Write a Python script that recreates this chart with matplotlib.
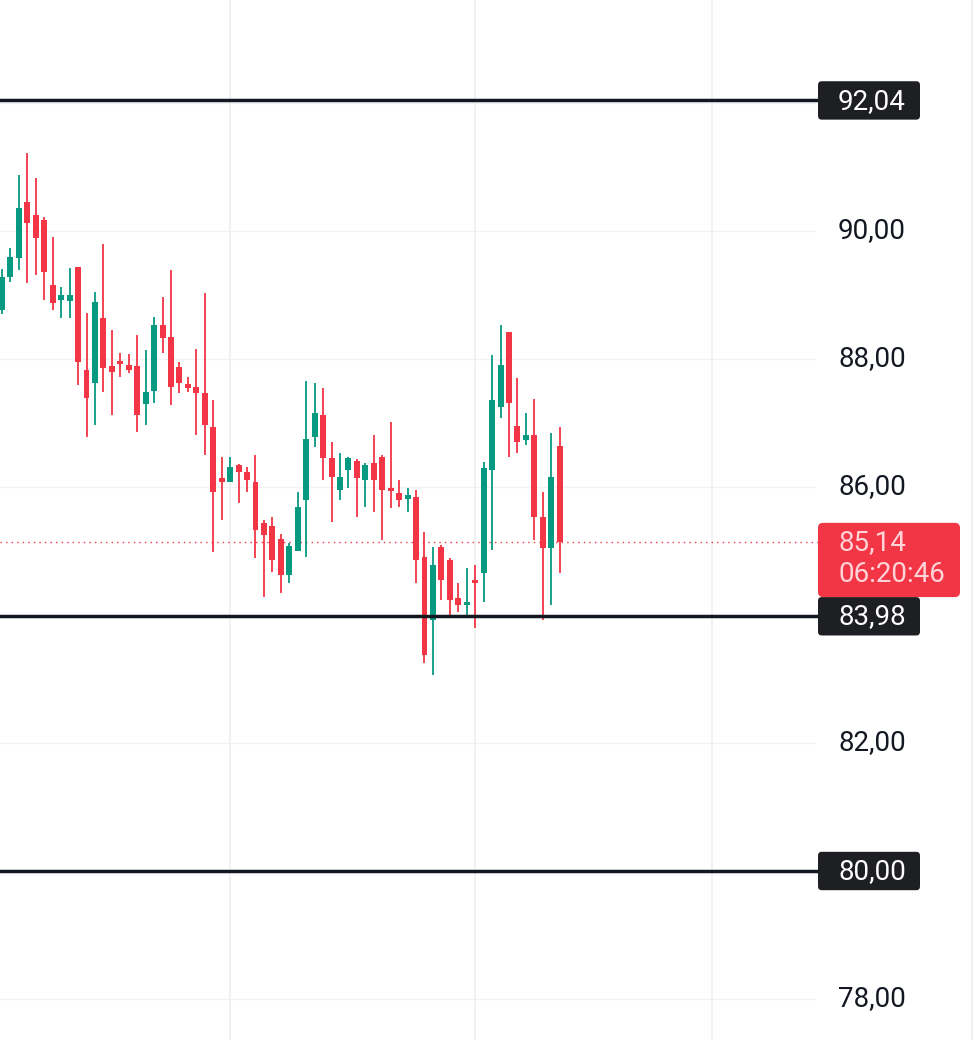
import matplotlib.pyplot as plt
from matplotlib.patches import FancyBboxPatch

opens = [88.77, 89.28, 89.58, 90.45, 90.25, 90.17, 89.16, 88.92, 88.90, 89.44,
         87.83, 87.63, 88.64, 87.89, 87.97, 87.90, 87.89, 87.30, 87.50, 88.53,
         88.34, 87.88, 87.61, 87.56, 87.47, 86.94, 86.14, 86.08, 86.34, 86.23,
         86.08, 85.44, 85.39, 85.19, 84.63, 85.00, 85.80, 86.78, 87.13, 86.45,
         85.95, 86.27, 86.41, 86.11, 86.38, 86.47, 85.98, 85.91, 85.81, 85.84,
         84.91, 83.92, 85.06, 84.86, 84.27, 84.16, 84.52, 84.66, 86.27, 87.25,
         88.42, 86.95, 86.73, 86.81, 85.53, 85.05, 86.64]
highs = [89.40, 89.73, 90.88, 91.22, 90.83, 90.22, 89.90, 89.12, 89.42, 89.44,
         88.72, 89.05, 89.80, 88.45, 88.10, 88.08, 88.38, 88.14, 88.66, 88.97,
         89.39, 87.95, 87.72, 88.16, 89.03, 87.36, 86.47, 86.47, 86.36, 86.31,
         86.50, 85.48, 85.53, 85.27, 85.13, 85.92, 87.66, 87.63, 87.55, 86.70,
         86.53, 86.47, 86.44, 86.38, 86.81, 86.50, 87.02, 86.11, 85.98, 85.95,
         85.30, 85.06, 85.09, 84.89, 84.50, 84.73, 84.78, 86.39, 88.06, 88.53,
         88.42, 87.70, 87.16, 87.38, 85.92, 86.84, 86.94]
lows = [88.70, 89.20, 89.39, 89.19, 89.31, 88.92, 88.77, 88.64, 88.64, 87.60,
        86.78, 86.97, 87.48, 87.12, 87.72, 87.78, 86.86, 86.97, 87.31, 88.09,
        87.28, 87.47, 87.48, 86.81, 86.50, 84.98, 85.48, 86.08, 85.75, 85.92,
        84.89, 84.28, 84.67, 84.34, 84.50, 85.00, 84.90, 86.62, 86.11, 85.45,
        85.80, 85.98, 85.53, 85.69, 85.61, 85.17, 85.67, 85.69, 85.61, 84.50,
        83.25, 83.06, 84.23, 83.97, 84.05, 83.97, 83.80, 84.20, 85.02, 87.08,
        86.47, 86.53, 86.66, 85.17, 83.92, 84.16, 84.66]
closes = [89.28, 89.59, 90.36, 90.13, 89.89, 89.36, 88.88, 89.00, 89.00, 87.95,
          87.39, 88.89, 87.86, 87.80, 87.92, 87.83, 87.12, 87.48, 88.53, 88.33,
          87.56, 87.63, 87.55, 87.47, 86.97, 85.92, 86.08, 86.31, 86.23, 86.11,
          85.33, 85.25, 84.86, 84.63, 85.08, 85.69, 86.75, 87.16, 86.45, 86.16,
          86.16, 86.45, 86.14, 86.34, 86.11, 85.95, 85.94, 85.80, 85.88, 84.86,
          83.38, 84.78, 84.55, 84.23, 84.16, 84.20, 84.50, 86.30, 87.36, 87.91,
          87.31, 86.70, 86.81, 85.53, 85.05, 86.16, 85.14]

levels = [92.04, 83.98, 80.00]
level_labels = ["92,04", "83,98", "80,00"]
tick_values = [90.0, 88.0, 86.0, 82.0, 78.0]
tick_labels = ["90,00", "88,00", "86,00", "82,00", "78,00"]
last_price = 85.14
last_label = "85,14"
countdown = "06:20:46"

green = "#089981"
red = "#F23645"
ink = "#131722"

plt.rcParams['font.family'] = ['Roboto', 'DejaVu Sans']

fig = plt.figure(figsize=(9.74, 10.4), dpi=100)
ax = fig.add_axes([0, 0, 1, 1])

# 1 candle step = 8.45 px, 1 price unit = 64 px
step = 8.45
x0 = -2 / step
x1 = (974 - 2) / step
ax.set_xlim(x0, x1)
ax.set_ylim(90 - (1040 - 231) / 64, 90 + 231 / 64)
ax.axis('off')

lab_left = (818 - 2) / step
lab_text = (838 - 2) / step

# grid
for v in [78, 80, 82, 84, 86, 88, 90, 92]:
    ax.plot([x0, (815 - 2) / step], [v, v], color="#f1f2f5", lw=1, zorder=0)
for px in [230, 475, 712, 972]:
    ax.axvline((px - 2) / step, color="#eeeff2", lw=1.2, zorder=0)

# candles
for i in range(len(opens)):
    o, h, l, c = opens[i], highs[i], lows[i], closes[i]
    col = green if c >= o else red
    ax.vlines(i, l, h, color=col, lw=1.3, zorder=2)
    body = max(abs(c - o), 0.04)
    ax.bar(i, body, bottom=min(o, c), width=0.7, color=col, zorder=3)

# last price line
ax.plot([x0, lab_left], [last_price, last_price], color=red, lw=1,
        linestyle=(0, (1, 3)), zorder=1)

# price scale labels
for v, t in zip(tick_values, tick_labels):
    ax.text(lab_text, v, t, fontsize=20, color=ink, va='center', ha='left')

asp = (1 / 64) / (1 / step)

# horizontal levels with dark labels
for v, t in zip(levels, level_labels):
    ax.plot([x0, lab_left], [v, v], color=ink, lw=2.5, zorder=4)
    box = FancyBboxPatch((lab_left, v - 0.3), (920 - 818) / step, 0.6,
                         boxstyle="round,pad=0,rounding_size=0.45",
                         mutation_aspect=asp, fc="#1e1f22", ec="none", zorder=5)
    ax.add_patch(box)
    ax.text(lab_text, v - 0.01, t, fontsize=20, color="white",
            va='center', ha='left', zorder=6)

# current price badge
badge = FancyBboxPatch((lab_left, 84.28), (960 - 818) / step, 85.44 - 84.28,
                       boxstyle="round,pad=0,rounding_size=0.6",
                       mutation_aspect=asp, fc=red, ec="none", zorder=5)
ax.add_patch(badge)
ax.text(lab_text, last_price, last_label, fontsize=20, color="#ffd3d8",
        va='center', ha='left', zorder=6)
ax.text(lab_text, 84.63, countdown, fontsize=20, color="#ffd3d8",
        va='center', ha='left', zorder=6)

fig.savefig("out.png", dpi=100, facecolor="white")
